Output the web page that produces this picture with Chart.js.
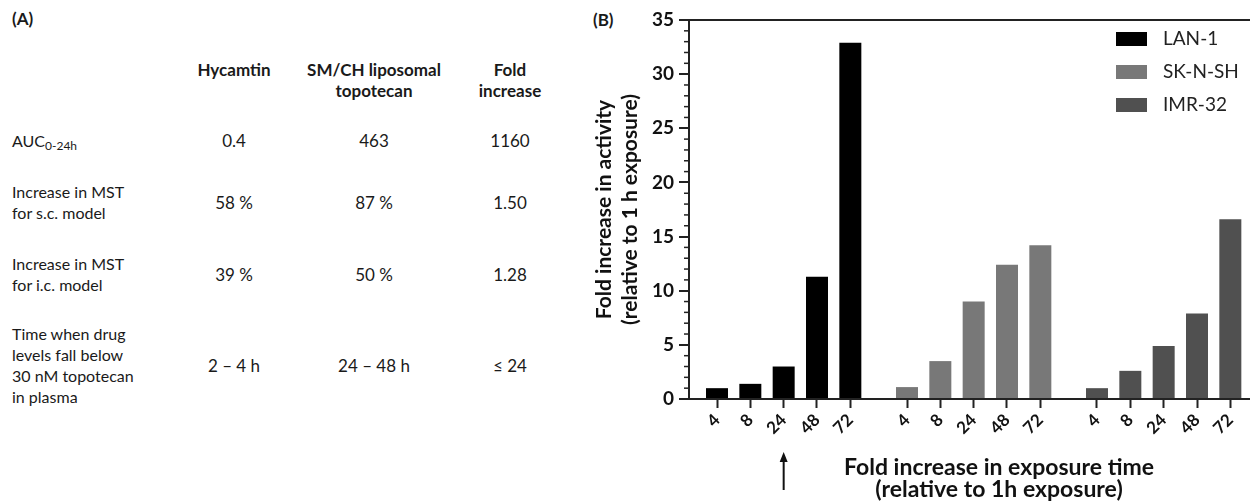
<!DOCTYPE html>
<html>
<head>
<meta charset="utf-8">
<script src="https://cdn.jsdelivr.net/npm/chart.js@4.4.1/dist/chart.umd.min.js"></script>
<style>
  body { margin: 0; width: 1250px; height: 502px; background: #fff; font-family: Lato, "Open Sans", sans-serif; color: #1a1a1a; position: relative; overflow: hidden; }
  .panel { position: absolute; font-weight: bold; font-size: 17px; }
  .head { position: absolute; transform: translateX(-50%); text-align: center; font-weight: bold; font-size: 17px; line-height: 21px; white-space: nowrap; }
  .cell { position: absolute; transform: translate(-50%, -50%); text-align: center; font-size: 17px; line-height: 21px; white-space: nowrap; }
  .label { position: absolute; left: 12px; transform: translateY(-50%); font-size: 16px; line-height: 21px; white-space: nowrap; }
  .label sub { font-size: 12px; vertical-align: -3px; line-height: 0; }
  #chartBox { position: absolute; left: 592px; top: 0; width: 658px; height: 502px; }
</style>
</head>
<body>
<div class="panel" style="left:12px;top:8px">(A)</div>
<div class="panel" style="left:593px;top:9px">(B)</div>
<div id="table"></div>
<div id="chartBox"><canvas id="myChart"></canvas></div>
<script>
// table (A)
const columnHeads = [["Hycamtin"], ["SM/CH liposomal", "topotecan"], ["Fold", "increase"]];
const rowLabels = [
  ["AUC<sub>0-24h</sub>"],
  ["Increase in MST", "for s.c. model"],
  ["Increase in MST", "for i.c. model"],
  ["Time when drug", "levels fall below", "30 nM topotecan", "in plasma"]
];
const hycamtin = ["0.4", "58 %", "39 %", "2 – 4 h"];
const liposomal = ["463", "87 %", "50 %", "24 – 48 h"];
const foldIncrease = ["1160", "1.50", "1.28", "≤ 24"];

// chart (B)
const exposureLabels = ["4", "8", "24", "48", "72"];
const cellLines = ["LAN-1", "SK-N-SH", "IMR-32"];
const lan1 = [1.0, 1.4, 3.0, 11.3, 32.9];
const skNSh = [1.1, 3.5, 9.0, 12.4, 14.2];
const imr32 = [1.0, 2.6, 4.9, 7.9, 16.6];
const yTicks = [0, 5, 10, 15, 20, 25, 30, 35];
const yTitle = ["Fold increase in activity", "(relative to 1 h exposure)"];
const xTitle = ["Fold increase in exposure time", "(relative to 1h exposure)"];
const barColors = ["#000000", "#787878", "#505050"];

const colX = [234, 374, 510];
const rowY = [140, 202, 274, 365];
const table = document.getElementById("table");

columnHeads.forEach((lines, c) => {
  const d = document.createElement("div");
  d.className = "head";
  d.style.left = colX[c] + "px";
  d.style.top = "59px";
  d.innerHTML = lines.join("<br>");
  table.appendChild(d);
});

rowLabels.forEach((lines, r) => {
  const d = document.createElement("div");
  d.className = "label";
  d.style.top = rowY[r] + "px";
  d.innerHTML = lines.join("<br>");
  table.appendChild(d);
  [hycamtin, liposomal, foldIncrease].forEach((col, c) => {
    const v = document.createElement("div");
    v.className = "cell";
    v.style.left = colX[c] + "px";
    v.style.top = rowY[r] + "px";
    v.textContent = col[r];
    table.appendChild(v);
  });
});

// bar slots: 5 per cell line, groups a bit further apart
const groupStep = 5.7;
const xValues = [];
const xTickLabels = [];
cellLines.forEach((name, g) => {
  exposureLabels.forEach((lab, i) => {
    xValues.push(g * groupStep + i);
    xTickLabels.push(lab);
  });
});

const datasets = [lan1, skNSh, imr32].map((vals, g) => ({
  label: cellLines[g],
  data: vals.map((v, i) => ({ x: g * groupStep + i, y: v })),
  backgroundColor: barColors[g],
  grouped: false,
  categoryPercentage: 1,
  barPercentage: 0.66
}));

const extras = {
  id: "extras",
  afterDraw(chart) {
    const { ctx, chartArea, scales: { x, y } } = chart;
    ctx.save();
    // minor ticks, one per unit
    ctx.strokeStyle = "#222";
    ctx.lineWidth = 1.5;
    for (let v = yTicks[0]; v <= yTicks[yTicks.length - 1]; v++) {
      if (yTicks.includes(v)) continue;
      const py = y.getPixelForValue(v);
      ctx.beginPath();
      ctx.moveTo(y.right - 5, py);
      ctx.lineTo(y.right, py);
      ctx.stroke();
    }
    // legend in the plot
    ctx.textBaseline = "middle";
    ctx.textAlign = "left";
    ctx.font = "19px Lato";
    chart.data.datasets.forEach((ds, k) => {
      const top = chartArea.top + 12 + k * 33;
      ctx.fillStyle = ds.backgroundColor;
      ctx.fillRect(chartArea.right - 134, top, 31, 14);
      ctx.fillStyle = "#222";
      ctx.fillText(ds.label, chartArea.right - 87, top + 7);
    });
    // x axis title
    ctx.textAlign = "center";
    ctx.fillStyle = "#111";
    ctx.font = "bold 23px Lato";
    ctx.fillText(xTitle[0], chartArea.left + 310, 468);
    ctx.fillText(xTitle[1], chartArea.left + 310, 490);
    // arrow under 24 h of LAN-1
    const ax = x.getPixelForValue(xValues[2]);
    ctx.strokeStyle = "#111";
    ctx.lineWidth = 2;
    ctx.beginPath();
    ctx.moveTo(ax, 460);
    ctx.lineTo(ax, 490);
    ctx.stroke();
    ctx.fillStyle = "#111";
    ctx.beginPath();
    ctx.moveTo(ax, 452);
    ctx.lineTo(ax - 4, 462);
    ctx.lineTo(ax + 4, 462);
    ctx.closePath();
    ctx.fill();
    ctx.restore();
  }
};

const chartDOM = document.getElementById("myChart");
const myChart = new Chart(chartDOM, {
  type: "bar",
  data: { datasets },
  options: {
    responsive: true,
    maintainAspectRatio: false,
    animation: false,
    layout: { padding: { top: 20, left: 0, right: 0, bottom: 0 } },
    plugins: { legend: { display: false }, tooltip: { enabled: false } },
    scales: {
      x: {
        type: "linear",
        offset: false,
        min: -0.84,
        max: 15.99,
        afterBuildTicks: (s) => { s.ticks = xValues.map((v) => ({ value: v })); },
        afterFit: (s) => { s.height = 103; },
        ticks: {
          autoSkip: false,
          minRotation: 45,
          maxRotation: 45,
          padding: 2,
          color: "#111",
          font: { family: "Lato", weight: "bold", size: 17 },
          callback: (v, i) => xTickLabels[i]
        },
        grid: { offset: false, drawOnChartArea: false, tickLength: 9, tickWidth: 2, tickColor: "#222" },
        border: { color: "#222", width: 2 }
      },
      y: {
        min: yTicks[0],
        max: yTicks[yTicks.length - 1],
        afterFit: (s) => { s.width = 97; },
        ticks: {
          stepSize: yTicks[1] - yTicks[0],
          padding: 5,
          color: "#111",
          font: { family: "Lato", weight: "bold", size: 19 }
        },
        grid: {
          color: (c) => (c.tick && c.tick.value === yTicks[yTicks.length - 1] ? "#222" : "rgba(0,0,0,0)"),
          lineWidth: 2,
          tickLength: 10,
          tickWidth: 2,
          tickColor: "#222"
        },
        border: { color: "#222", width: 2 },
        title: {
          display: true,
          text: yTitle,
          color: "#111",
          padding: { top: 0, bottom: 0 },
          font: { family: "Lato", weight: "bold", size: 21, lineHeight: 1.2 }
        }
      }
    }
  },
  plugins: [extras]
});
</script>
</body>
</html>
